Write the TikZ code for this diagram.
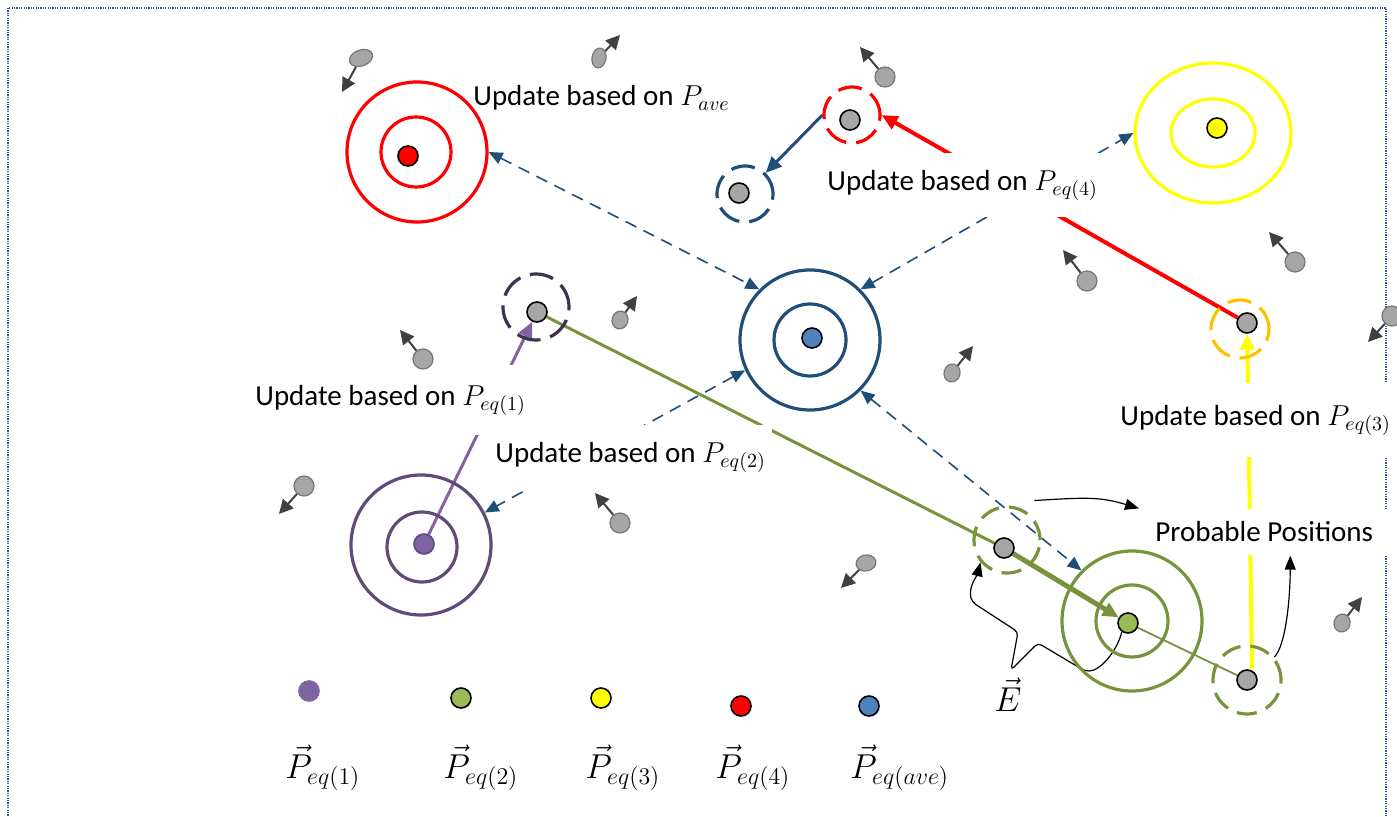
\documentclass[tikz,border=0pt]{standalone}
\usepackage{fontspec}
\setmainfont{Carlito}
\usepackage{tikz}
\usetikzlibrary{arrows.meta,shapes.geometric,backgrounds,positioning}
\definecolor{ringred}{HTML}{FF0000}
\definecolor{ringblue}{HTML}{1F4E79}
\definecolor{ringyellow}{HTML}{FFFF00}
\definecolor{ringplum}{HTML}{5F4A7B}
\definecolor{ringolive}{HTML}{77933C}
\definecolor{dotblue}{HTML}{4F81BD}
\definecolor{dotlilac}{HTML}{8064A2}
\definecolor{dotleaf}{HTML}{9BBB59}
\definecolor{haloplum}{HTML}{3F3151}
\definecolor{haloorange}{HTML}{FFC000}
\definecolor{framedot}{HTML}{2F5597}
\definecolor{motegray}{HTML}{A6A6A6}
\definecolor{motedge}{HTML}{767676}
\definecolor{arrowgray}{HTML}{404040}

\begin{document}
\begin{tikzpicture}[
    x=0.5pt,y=-0.5pt,
    lbl/.style     = {anchor=west, inner xsep=3pt, inner ysep=8.5pt,
                      font=\fontsize{14.5}{17}\selectfont},
    key/.style     = {anchor=west, inner sep=1pt, font=\fontsize{16.5}{19}\selectfont},
    ring/.style    = {circle, draw=#1, line width=1.6pt, inner sep=0pt},
    spot/.style    = {circle, draw=black, line width=0.8pt, inner sep=0pt,
                      minimum size=10pt},
    agent/.style   = {spot, fill=motegray},
    halo/.style    = {circle, draw=#1, line width=1.6pt, inner sep=0pt,
                      minimum size=28pt, dash pattern=on 12pt off 5pt},
    mote/.style    = {ellipse, draw=motedge, fill=motegray, line width=0.6pt,
                      inner sep=0pt},
    drift/.style   = {-{Triangle[length=7pt,width=7pt]}, arrowgray, line width=1pt},
    link/.style    = {{Triangle[length=7pt,width=6pt]}-{Triangle[length=7pt,width=6pt]},
                      ringblue, line width=0.8pt, dash pattern=on 6pt off 4pt},
    push/.style    = {-{Triangle[length=8pt,width=7pt]}},
    hint/.style    = {-{Triangle[length=7pt,width=5.5pt]}, black, line width=0.6pt},
    boxline/.style = {framedot, line width=0.7pt, dash pattern=on 0.6pt off 0.6pt},
  ]
  \useasboundingbox (0,0) rectangle (1397,817);

  % captions
  \node[lbl] (ua) at (467,98) {Update based on $P_{ave}$};
  \node[lbl,fill=white] (u4) at (821,185) {Update based on $P_{eq(4)}$};
  \node[lbl,fill=white,inner ysep=10pt] (u1) at (249,400) {Update based on $P_{eq(1)}$};
  \node[lbl,fill=white] (u2) at (489,457) {Update based on $P_{eq(2)}$};
  \node[lbl,fill=white,inner ysep=11pt] (u3) at (1114,420) {Update based on $P_{eq(3)}$};
  \node[lbl,fill=white,inner xsep=8pt,inner ysep=6.5pt] (prob) at (1139,532)
       {Probable Positions};

  % equilibrium targets
  \node[ring=ringred, minimum size=70pt] (p4o) at (417,152) {};
  \node[ring=ringred, minimum size=35pt] (p4i) at (416,152) {};
  \node[spot, fill=ringred] (p4) at (408,156) {};

  \node[ring=ringblue, minimum size=70pt] (pao) at (810,340) {};
  \node[ring=ringblue, minimum size=36pt] (pai) at (810,340) {};
  \node[spot, fill=dotblue] (pa) at (812,338) {};

  \node[ring=ringyellow, ellipse, minimum width=78pt, minimum height=70pt] (p3o) at (1213,133) {};
  \node[ring=ringyellow, ellipse, minimum width=42pt, minimum height=34pt] (p3i) at (1213,133) {};
  \node[spot, fill=ringyellow] (p3) at (1217,128) {};

  \node[ring=ringplum, minimum size=70pt] (p1o) at (421,545) {};
  \node[ring=ringplum, minimum size=35pt] (p1i) at (422,547) {};
  \node[spot, fill=dotlilac, draw=ringplum] (p1) at (424,544) {};

  \node[ring=ringolive, minimum size=70pt] (p2o) at (1132,621) {};
  \node[ring=ringolive, minimum size=36pt] (p2i) at (1132,621) {};
  \node[spot, fill=dotleaf] (p2) at (1128,623) {};

  % agents and their dashed halos
  \node[halo=ringred] (h4) at (852,115) {};
  \node[agent] (a4) at (850,120) {};
  \node[halo=ringblue] (ha) at (745,194) {};
  \node[agent] (aa) at (739,193) {};
  \node[halo=haloplum, minimum size=33pt] (h1) at (536,307) {};
  \node[agent] (a1) at (537,312) {};
  \node[halo=haloorange, minimum size=29pt] (h3) at (1240,329) {};
  \node[agent] (a3) at (1247,323) {};
  \node[halo=ringolive, minimum size=33pt, dash pattern=on 10pt off 5pt] (k1) at (1007,540) {};
  \node[agent] (e1) at (1004,548) {};
  \node[halo=ringolive, minimum size=34pt, dash pattern=on 10pt off 5pt] (k2) at (1247,680) {};
  \node[agent] (e2) at (1247,680) {};

  % drifting particles
  \foreach \x/\y/\tx/\ty/\w/\h/\r [count=\i] in {
      361/58/342/92/12/8/20,   599/58/620/35/7/10/-10,  885/77/860/47/10/10/0,
      620/320/637/296/8/9/-15, 423/359/400/330/10/10/0, 304/486/279/514/10/10/0,
      620/523/595/493/10/10/0, 866/563/841/588/10/8/10, 952/373/973/346/8/9/-15,
      1087/281/1063/250/10/10/0, 1295/262/1269/232/10/10/0,
      1392/316/1368/342/10/10/0, 1342/623/1362/597/8/9/-15}
  {
    \node[mote, minimum width=\w*1pt, minimum height=\h*1pt, rotate=\r] (m\i) at (\x,\y) {};
    \coordinate (mt\i) at (\tx,\ty);
    \draw[drift] (m\i) -- (mt\i);
  }

  % legend
  \node[spot, fill=dotlilac, draw=dotlilac] (l1) at (309,691) {};
  \node[spot, fill=dotleaf]    (l2) at (461,698) {};
  \node[spot, fill=ringyellow] (l3) at (601,698) {};
  \node[spot, fill=ringred]    (l4) at (741,706) {};
  \node[spot, fill=dotblue]    (l5) at (869,706) {};
  \node[key] (t1) at (283,768) {$\vec{P}_{eq(1)}$};
  \node[key] (t2) at (441,768) {$\vec{P}_{eq(2)}$};
  \node[key] (t3) at (583,768) {$\vec{P}_{eq(3)}$};
  \node[key] (t4) at (713,768) {$\vec{P}_{eq(4)}$};
  \node[key] (t5) at (848,768) {$\vec{P}_{eq(ave)}$};
  \node[key, anchor=center] (te) at (1008,695) {$\vec{E}$};

  \begin{scope}[on background layer]
    \draw[boxline] (8,830) -- (8,8) -- (1386,8) -- (1386,830);

    \draw[link] (p4o.east) -- (pao.north west);
    \draw[link] (pao.north east) -- (p3o.west);
    \draw[link] (pao.205) -- (p1o.27);
    \draw[link] (pao.south east) -- (p2o.north west);

    \draw[push, ringblue, line width=1.5pt] (h4.west) -- (ha);
    \draw[push, ringred, line width=2pt] (a3) -- (h4.east);
    \draw[push, ringyellow, line width=2pt] ([xshift=2.5pt]e2.north) -- (a3);
    \draw[push, dotlilac, line width=1.5pt] (p1) -- (a1);
    \draw[ringolive, line width=1.5pt] (a1) -- (e1);
    \draw[push, ringolive, line width=2.5pt] (e1) -- (p2);
    \draw[ringolive, line width=0.9pt] (p2) -- (e2);

    \draw[hint] ([xshift=1.5pt,yshift=7.5pt]k1.north east)
        .. controls +(50,-3) and +(-40,-12) .. (prob.north west);
    \draw[hint] (k2.40) .. controls +(12,-12) and +(0,40) .. ([xshift=13pt]prob.south);
    \draw[hint, rounded corners=2pt] (p2.235) .. controls +(-5,20) and +(15,0) .. (1085,671)
        -- (1038,643) -- (1011,670) -- (1018,632) -- (972,602)
        .. controls +(-4,-15) and +(-3,12) .. (k1.220);
  \end{scope}
\end{tikzpicture}
\end{document}
